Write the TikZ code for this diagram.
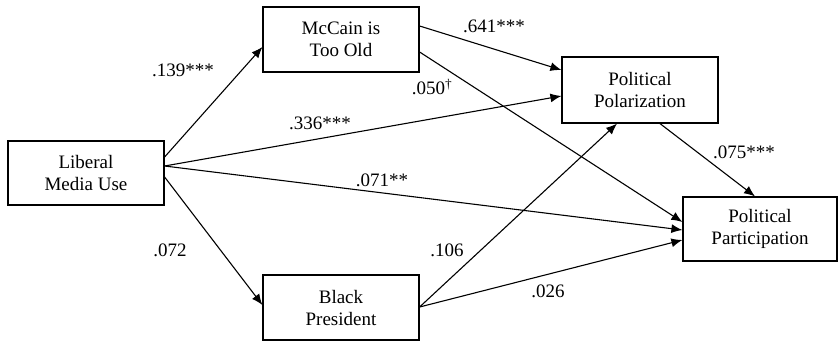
\documentclass[tikz,border=0pt]{standalone}
\usepackage{fontspec}
\setmainfont{Liberation Serif}
\usetikzlibrary{arrows.meta}
\begin{document}
\begin{tikzpicture}[x=1pt,y=-1pt,
  box/.style={draw, line width=1.2pt, align=center, inner sep=0pt,
    font=\fontsize{19}{22}\selectfont},
  conn/.style={line width=1.1pt, -{Latex[length=11pt,width=9pt]}},
  lbl/.style={font=\fontsize{19}{22}\selectfont, inner sep=0pt}]
\useasboundingbox (0,0) rectangle (838,342);
\node[box, minimum width=156pt, minimum height=64pt] (lib) at (86,173) {Liberal\\Media Use};
\node[box, minimum width=156pt, minimum height=65pt] (mcc) at (341,39.5) {McCain is\\Too Old};
\node[box, minimum width=156pt, minimum height=66pt] (pol) at (640,90) {Political\\Polarization};
\node[box, minimum width=156pt, minimum height=65pt] (blk) at (341,307.5) {Black\\President};
\node[box, minimum width=154pt, minimum height=64pt] (par) at (760,229) {Political\\Participation};

\draw[conn] ([yshift=16pt]lib.east) -- ([yshift=-7.5pt]mcc.west);
\draw[conn] ([yshift=7pt]lib.east) -- ([yshift=-6pt]pol.west);
\draw[conn] ([yshift=7pt]lib.east) -- ([yshift=-1pt]par.west);
\draw[conn] ([yshift=-4pt]lib.east) -- ([yshift=2.5pt]blk.west);
\draw[conn] ([yshift=13.5pt]mcc.east) -- ([yshift=20pt]pol.west);
\draw[conn] ([yshift=-12.5pt]mcc.east) -- ([yshift=7pt]par.west);
\draw[conn] ([xshift=20pt]pol.south) -- ([xshift=-5pt]par.north);
\draw[conn] ([yshift=0.5pt]blk.east) -- ([xshift=-23pt]pol.south);
\draw[conn] ([yshift=0.5pt]blk.east) -- ([yshift=-11pt]par.west);

\node[lbl] (l1) at (183,70) {.139***};
\node[lbl] (l2) at (320,123) {.336***};
\node[lbl] (l3) at (382,180) {.071**};
\node[lbl] (l4) at (170,250) {.072};
\node[lbl] (l5) at (494,26) {.641***};
\node[lbl] (l6) at (432,87) {.050\textsuperscript{†}};
\node[lbl] (l7) at (744,152) {.075***};
\node[lbl] (l8) at (447,250) {.106};
\node[lbl] (l9) at (548,291) {.026};
\end{tikzpicture}
\end{document}
